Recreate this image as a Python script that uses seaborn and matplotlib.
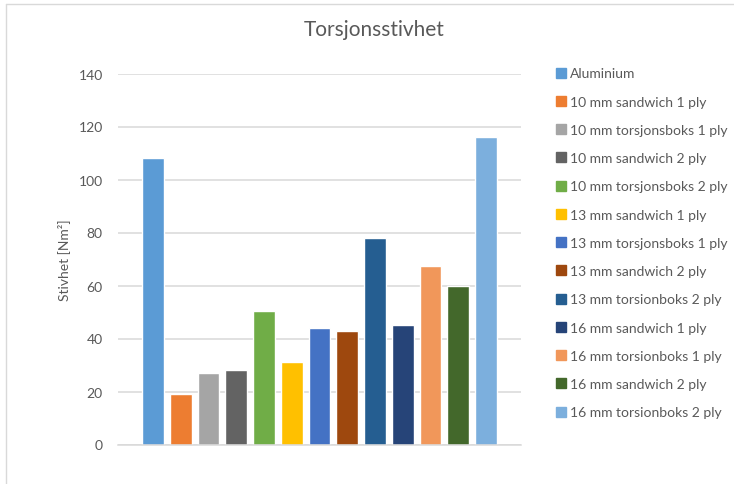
import matplotlib
matplotlib.use("Agg")
import matplotlib.pyplot as plt
from matplotlib.lines import Line2D
import seaborn as sns
import pandas as pd

# Torsional stiffness per specimen type
series = [
    "Aluminium",
    "10 mm sandwich 1 ply",
    "10 mm torsjonsboks 1 ply",
    "10 mm sandwich 2 ply",
    "10 mm torsjonsboks 2 ply",
    "13 mm sandwich 1 ply",
    "13 mm torsjonsboks 1 ply",
    "13 mm sandwich 2 ply",
    "13 mm torsionboks 2 ply",
    "16 mm sandwich 1 ply",
    "16 mm torsionboks 1 ply",
    "16 mm sandwich 2 ply",
    "16 mm torsionboks 2 ply",
]
stiffness = [108, 19, 27, 28, 50.5, 31, 44, 43, 78, 45, 67.4, 60, 116]
colors = [
    "#5B9BD5", "#ED7D31", "#A5A5A5", "#636363", "#70AD47", "#FFC000", "#4472C4",
    "#9E480E", "#255E91", "#264478", "#F1975A", "#43682B", "#7CAFDD",
]
y_ticks = [0, 20, 40, 60, 80, 100, 120, 140]

df = pd.DataFrame({"serie": series, "stivhet": stiffness})
palette = dict(zip(series, colors))

sns.set_theme(style="white")
plt.rcParams["font.family"] = ["Lato", "DejaVu Sans"]
text_color = "#595959"
grid_color = "#D9D9D9"

W, H = 734, 485
fig = plt.figure(figsize=(W / 100, H / 100), dpi=100)
ax = fig.add_axes([118 / W, (H - 445.5) / H, 403 / W, 371 / H])

sns.barplot(data=df, x="serie", y="stivhet", hue="serie", palette=palette,
            order=series, hue_order=series, width=0.79, dodge=False,
            legend=False, ax=ax, saturation=1)

ax.set_ylim(0, 140)
ax.set_xlim(-1.26, 13.26)
ax.set_yticks(y_ticks)
ax.set_yticklabels([str(t) for t in y_ticks])
ax.yaxis.grid(True, color=grid_color, linewidth=1.1)
ax.set_axisbelow(True)
for s in ["top", "right", "left"]:
    ax.spines[s].set_visible(False)
ax.spines["bottom"].set_color(grid_color)
ax.spines["bottom"].set_linewidth(1.1)
ax.set_xticks([])
ax.set_xlabel("")
ax.tick_params(axis="y", length=0, pad=11, labelsize=10, labelcolor=text_color)
ax.set_ylabel("Stivhet [Nm²]", fontsize=10, color=text_color, labelpad=6)

fig.text(374 / W, 1 - 30 / H, "Torsjonsstivhet", ha="center", va="center",
         fontsize=15, color=text_color)

handles = [Line2D([0], [0], marker="s", linestyle="none", markersize=6.5,
                  markerfacecolor=c, markeredgecolor=c) for c in colors]
fig.legend(handles, series, loc="upper left",
           bbox_to_anchor=(556 / W, 1 - 68.5 / H), frameon=False,
           fontsize=10, labelcolor=text_color, labelspacing=1.17,
           handlelength=0.7, handletextpad=0.31, borderpad=0, borderaxespad=0)

# chart frame edges
fig.add_artist(Line2D([5.5 / W, 5.5 / W], [0, 1 - 4.5 / H], color=grid_color,
                      linewidth=1, transform=fig.transFigure))
fig.add_artist(Line2D([5.5 / W, 1], [1 - 4.5 / H, 1 - 4.5 / H], color=grid_color,
                      linewidth=1, transform=fig.transFigure))

fig.savefig("out.png", dpi=100, facecolor="white")
